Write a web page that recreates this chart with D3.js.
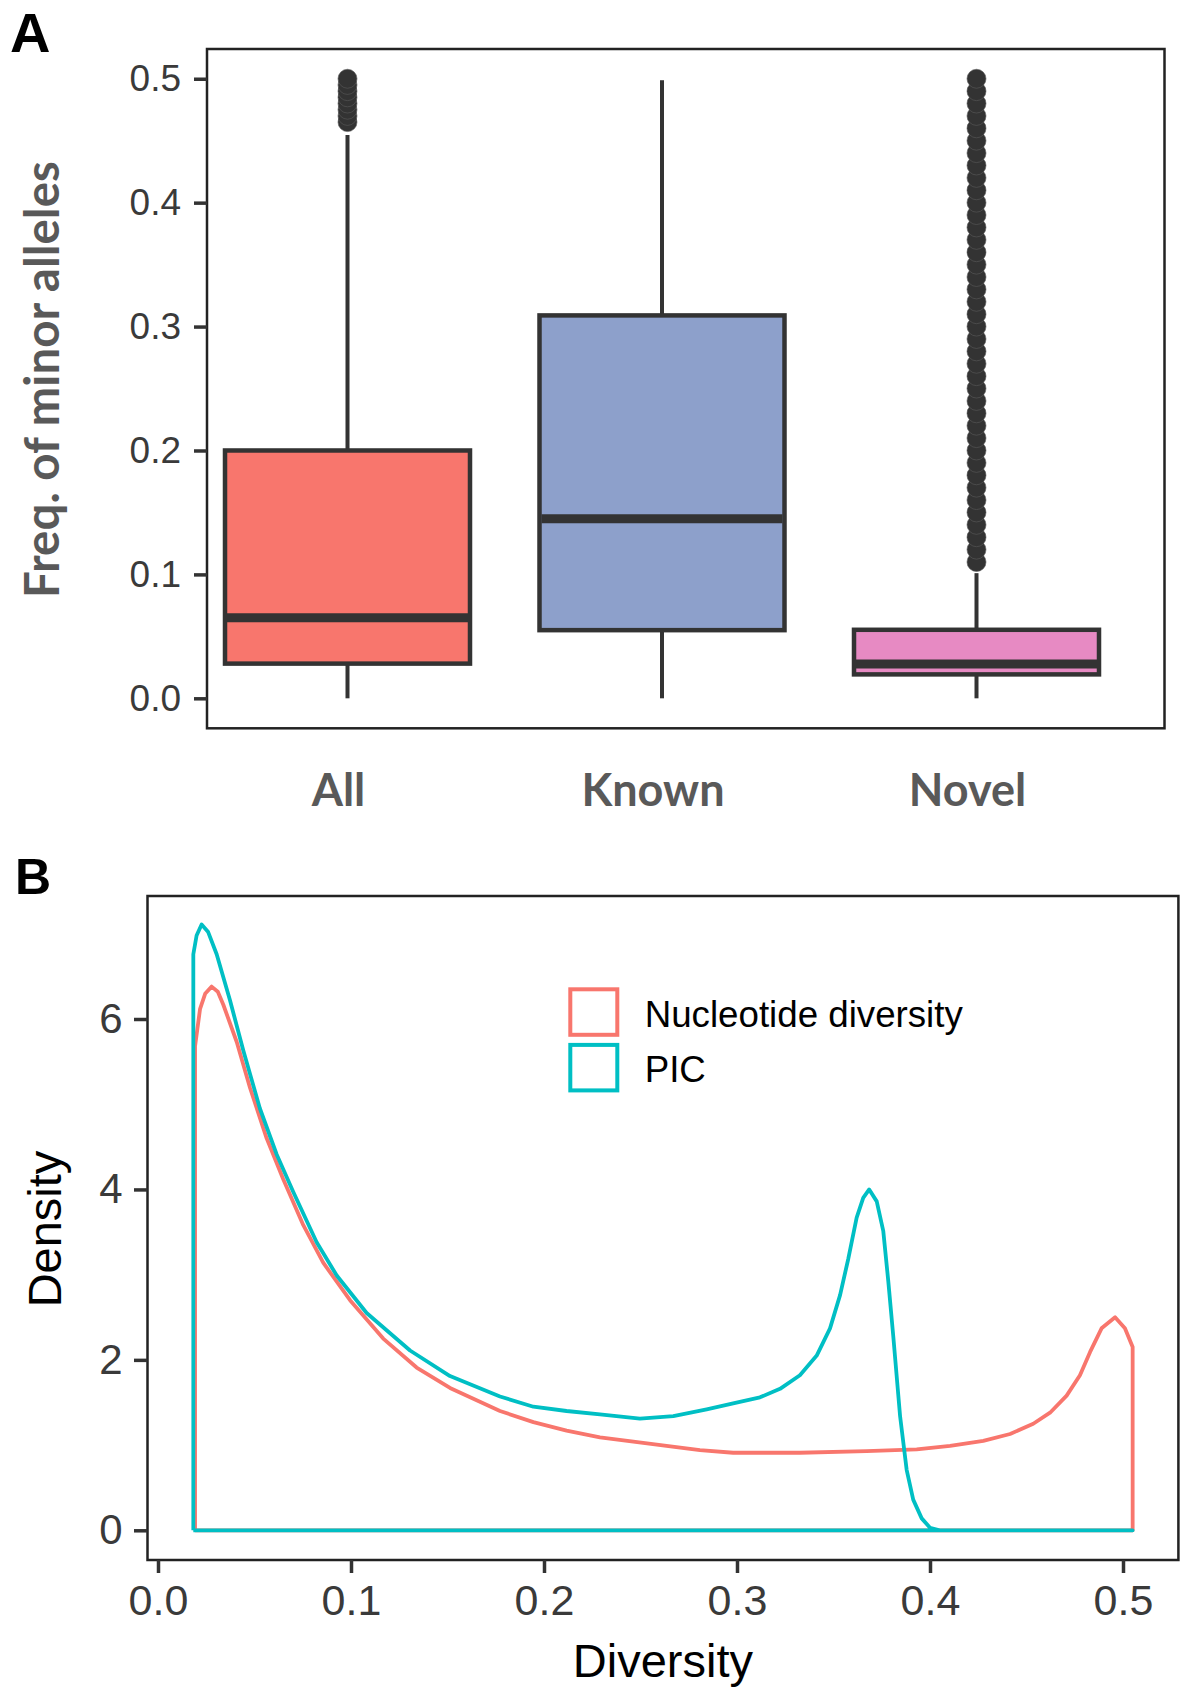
<!DOCTYPE html>
<html>
<head>
<meta charset="utf-8">
<script src="https://cdn.jsdelivr.net/npm/d3@7"></script>
<style>
  html, body { margin: 0; padding: 0; background: #fff; }
  svg { display: block; }
</style>
</head>
<body>
<svg id="chart" width="1184" height="1687"></svg>
<script>
// ---------------- Data: Panel A (box plots) ----------------
const categoriesA = ["All", "Known", "Novel"];
const q1Values = [0.028, 0.055, 0.0193];
const medianValues = [0.065, 0.145, 0.0277];
const q3Values = [0.2, 0.309, 0.0553];
const whiskerLow = [0, 0, 0];
const whiskerHigh = [0.4545, 0.4988, 0.101];
const outliersAll = [0.465, 0.47, 0.475, 0.48, 0.485, 0.49, 0.495, 0.5];
const outliersKnown = [];
const outliersNovel = [0.11, 0.12, 0.13, 0.14, 0.15, 0.16, 0.17, 0.18, 0.19, 0.2,
  0.21, 0.22, 0.23, 0.24, 0.25, 0.26, 0.27, 0.28, 0.29, 0.3,
  0.31, 0.32, 0.33, 0.34, 0.35, 0.36, 0.37, 0.38, 0.39, 0.4,
  0.41, 0.42, 0.43, 0.44, 0.45, 0.46, 0.47, 0.48, 0.49, 0.5];
const yTicksA = [0, 0.1, 0.2, 0.3, 0.4, 0.5];

// ---------------- Data: Panel B (density curves) ----------------
const seriesNames = ["Nucleotide diversity", "PIC"];
const nucleotideDiversity = [
  [0.0192, 0], [0.0192, 5.68], [0.0218, 6.12], [0.0245, 6.30], [0.0278, 6.38], [0.0310, 6.32],
  [0.0338, 6.17], [0.0408, 5.73], [0.0477, 5.19], [0.0563, 4.60], [0.0649, 4.12], [0.0753, 3.58],
  [0.0856, 3.14], [0.0995, 2.70], [0.1167, 2.25], [0.1340, 1.91], [0.1513, 1.67], [0.1772, 1.40],
  [0.1945, 1.27], [0.2117, 1.17], [0.229, 1.09], [0.2463, 1.04], [0.2635, 0.99], [0.2808, 0.94],
  [0.298, 0.91], [0.3326, 0.91], [0.3671, 0.93], [0.3931, 0.95], [0.4104, 0.99], [0.4276, 1.05],
  [0.4415, 1.13], [0.4535, 1.25], [0.4622, 1.38], [0.4708, 1.58], [0.4777, 1.82], [0.4829, 2.09],
  [0.4889, 2.37], [0.4959, 2.50], [0.501, 2.37], [0.505, 2.15], [0.505, 0], [0.0192, 0]
];
const pic = [
  [0.0183, 0], [0.0183, 6.76], [0.0200, 6.98], [0.0226, 7.11], [0.0260, 7.02], [0.0304, 6.76],
  [0.0373, 6.22], [0.0442, 5.63], [0.0528, 4.95], [0.0615, 4.41], [0.0701, 3.97], [0.0822, 3.38],
  [0.0926, 2.99], [0.1081, 2.55], [0.1306, 2.11], [0.1513, 1.81], [0.1772, 1.57], [0.1945, 1.45],
  [0.2117, 1.40], [0.229, 1.36], [0.2497, 1.31], [0.267, 1.34], [0.2843, 1.42], [0.298, 1.49],
  [0.3119, 1.56], [0.3223, 1.66], [0.3326, 1.82], [0.3413, 2.05], [0.3482, 2.37], [0.3534, 2.76],
  [0.3577, 3.19], [0.362, 3.67], [0.3654, 3.90], [0.3685, 4.00], [0.3724, 3.86], [0.3758, 3.51],
  [0.3784, 2.92], [0.381, 2.27], [0.3845, 1.34], [0.3879, 0.71], [0.3913, 0.36], [0.3957, 0.14],
  [0.400, 0.03], [0.405, 0], [0.505, 0], [0.0183, 0]
];
const xTicksB = [0, 0.1, 0.2, 0.3, 0.4, 0.5];
const yTicksB = [0, 2, 4, 6];

// ---------------- Styles ----------------
const boxFills = ["#F8766D", "#8DA0CB", "#E78AC3"];
const lineColors = ["#F8766D", "#00BFC4"];
const dark = "#333333";
const arialFont = "'Liberation Sans', Arial, sans-serif";
const humanistFont = "Lato, 'Open Sans', sans-serif";

const svg = d3.select("#chart");
svg.append("rect").attr("width", 1184).attr("height", 1687).attr("fill", "#fff");

// ================= Panel A =================
const frameA = { left: 207, right: 1164.5, top: 49, bottom: 728.3 };
const yA = d3.scaleLinear().domain([-0.0242, 0.524]).range([frameA.bottom, frameA.top]);
const xA = d3.scalePoint().domain(categoriesA).range([347.5, 976.5]);
const boxW = 245;

svg.append("text").attr("x", 10).attr("y", 52)
  .attr("font-family", arialFont).attr("font-weight", 700).attr("font-size", 56)
  .attr("fill", "#000").text("A");

const gA = svg.append("g");

const boxData = categoriesA.map((c, i) => ({
  cat: c, q1: q1Values[i], med: medianValues[i], q3: q3Values[i],
  lo: whiskerLow[i], hi: whiskerHigh[i], fill: boxFills[i],
  out: [outliersAll, outliersKnown, outliersNovel][i]
}));

const boxes = gA.selectAll("g.box").data(boxData).enter().append("g").attr("class", "box");
// whiskers
boxes.append("line")
  .attr("x1", d => xA(d.cat)).attr("x2", d => xA(d.cat))
  .attr("y1", d => yA(d.q3)).attr("y2", d => yA(d.hi))
  .attr("stroke", dark).attr("stroke-width", 4);
boxes.append("line")
  .attr("x1", d => xA(d.cat)).attr("x2", d => xA(d.cat))
  .attr("y1", d => yA(d.q1)).attr("y2", d => yA(d.lo))
  .attr("stroke", dark).attr("stroke-width", 4);
// outliers
boxes.each(function(d) {
  d3.select(this).selectAll("circle").data(d.out).enter().append("circle")
    .attr("cx", xA(d.cat)).attr("cy", v => yA(v)).attr("r", 9.5)
    .attr("fill", dark).attr("stroke", "#5a5a5a").attr("stroke-width", 0.6);
});
// boxes
boxes.append("rect")
  .attr("x", d => xA(d.cat) - boxW / 2).attr("width", boxW)
  .attr("y", d => yA(d.q3)).attr("height", d => yA(d.q1) - yA(d.q3))
  .attr("fill", d => d.fill).attr("stroke", dark).attr("stroke-width", 4.5);
// medians
boxes.append("line")
  .attr("x1", d => xA(d.cat) - boxW / 2 + 2).attr("x2", d => xA(d.cat) + boxW / 2 - 2)
  .attr("y1", d => yA(d.med)).attr("y2", d => yA(d.med))
  .attr("stroke", dark).attr("stroke-width", 9);

// frame A
gA.append("rect").attr("x", frameA.left).attr("y", frameA.top)
  .attr("width", frameA.right - frameA.left).attr("height", frameA.bottom - frameA.top)
  .attr("fill", "none").attr("stroke", "#222").attr("stroke-width", 2.5);

// y axis A
const axA = gA.append("g").attr("transform", `translate(${frameA.left},0)`)
  .call(d3.axisLeft(yA).tickValues(yTicksA).tickFormat(d3.format(".1f")).tickSize(13).tickPadding(13));
axA.select(".domain").remove();
axA.selectAll(".tick line").attr("stroke", dark).attr("stroke-width", 3.5);
axA.selectAll(".tick text").attr("font-family", arialFont).attr("font-size", 37).attr("fill", "#3a3a3a");

// category labels
gA.selectAll("text.cat").data(categoriesA).enter().append("text")
  .attr("class", "cat")
  .attr("x", d => xA(d) - 9).attr("y", 806)
  .attr("text-anchor", "middle")
  .attr("font-family", humanistFont).attr("font-weight", 700).attr("font-size", 45)
  .attr("fill", "#595959").text(d => d);

// y title A
gA.append("text")
  .attr("transform", "translate(59,379.5) rotate(-90)")
  .attr("text-anchor", "middle")
  .attr("font-family", humanistFont).attr("font-weight", 700).attr("font-size", 47.5)
  .attr("fill", "#595959").text("Freq. of minor alleles");

// ================= Panel B =================
const frameB = { left: 147.5, right: 1178.4, top: 896, bottom: 1560 };
const xB = d3.scaleLinear().domain([0, 0.5]).range([158, 1123]);
const yB = d3.scaleLinear().domain([0, 6]).range([1530.3, 1019]);

svg.append("text").attr("x", 15).attr("y", 894)
  .attr("font-family", arialFont).attr("font-weight", 700).attr("font-size", 50)
  .attr("fill", "#000").text("B");

const gB = svg.append("g");

const lineGen = d3.line().x(d => xB(d[0])).y(d => yB(d[1]));
const curves = [nucleotideDiversity, pic];
gB.selectAll("path.curve").data(curves).enter().append("path")
  .attr("class", "curve")
  .attr("d", d => lineGen(d))
  .attr("fill", "none")
  .attr("stroke", (d, i) => lineColors[i])
  .attr("stroke-width", 3.8)
  .attr("stroke-linejoin", "round");

// frame B
gB.append("rect").attr("x", frameB.left).attr("y", frameB.top)
  .attr("width", frameB.right - frameB.left).attr("height", frameB.bottom - frameB.top)
  .attr("fill", "none").attr("stroke", "#222").attr("stroke-width", 2.5);

// axes B
const axBy = gB.append("g").attr("transform", `translate(${frameB.left},0)`)
  .call(d3.axisLeft(yB).tickValues(yTicksB).tickFormat(d3.format("d")).tickSize(13.5).tickPadding(11.5));
axBy.select(".domain").remove();
axBy.selectAll(".tick line").attr("stroke", dark).attr("stroke-width", 3.5);
axBy.selectAll(".tick text").attr("font-family", arialFont).attr("font-size", 42).attr("fill", "#3a3a3a");

const axBx = gB.append("g").attr("transform", `translate(0,${frameB.bottom})`)
  .call(d3.axisBottom(xB).tickValues(xTicksB).tickFormat(d3.format(".1f")).tickSize(13).tickPadding(11));
axBx.select(".domain").remove();
axBx.selectAll(".tick line").attr("stroke", dark).attr("stroke-width", 3.5);
axBx.selectAll(".tick text").attr("font-family", arialFont).attr("font-size", 43).attr("fill", "#3a3a3a");

// titles B
gB.append("text").attr("x", (frameB.left + frameB.right) / 2).attr("y", 1677)
  .attr("text-anchor", "middle").attr("font-family", arialFont).attr("font-size", 47)
  .attr("fill", "#000").text("Diversity");
gB.append("text").attr("transform", "translate(61,1229) rotate(-90)")
  .attr("text-anchor", "middle").attr("font-family", arialFont).attr("font-size", 47)
  .attr("fill", "#000").text("Density");

// legend B
const legend = gB.append("g");
seriesNames.forEach((name, i) => {
  legend.append("rect")
    .attr("x", 570.3).attr("y", 989.3 + i * 55.6)
    .attr("width", 47).attr("height", 45.5)
    .attr("fill", "#fff").attr("stroke", lineColors[i]).attr("stroke-width", 4);
  legend.append("text")
    .attr("x", 644.7).attr("y", 1026.7 + i * 55)
    .attr("font-family", arialFont).attr("font-size", 36.7).attr("fill", "#000")
    .text(name);
});
</script>
</body>
</html>
